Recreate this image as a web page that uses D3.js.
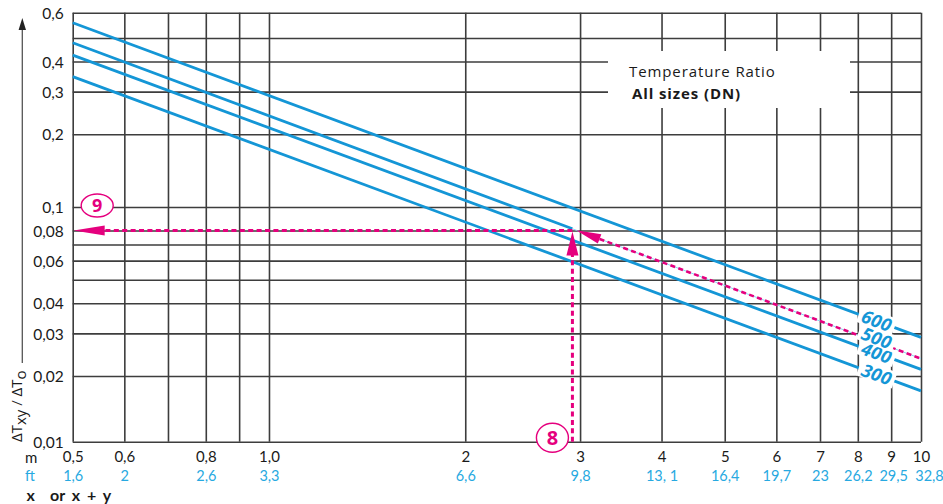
<!DOCTYPE html>
<html>
<head>
<meta charset="utf-8">
<script src="https://cdn.jsdelivr.net/npm/d3@7"></script>
<style>
  html, body { margin: 0; padding: 0; background: #fff; }
  svg { display: block; font-family: "Open Sans", "Noto Sans", sans-serif; }
</style>
</head>
<body>
<svg id="chart" width="943" height="504"></svg>
<script>
// Distance axis: metres, with the matching feet values underneath
const xTicks = [0.5, 0.6, 0.7, 0.8, 0.9, 1, 2, 3, 4, 5, 6, 7, 8, 9, 10];
const xTickLabels = ["0,5", "0,6", "", "0,8", "", "1,0", "2", "3", "4", "5", "6", "7", "8", "9", "10"];
const ftTickLabels = ["1,6", "2", "", "2,6", "", "3,3", "6,6", "9,8", "13, 1", "16,4", "19,7", "23", "26,2", "29,5", "32,8"];

// Temperature ratio axis
const yTicks = [0.01, 0.02, 0.03, 0.04, 0.05, 0.06, 0.07, 0.08, 0.1, 0.2, 0.3, 0.4, 0.5, 0.6];
const yTickLabels = ["0,01", "0,02", "0,03", "0,04", "", "0,06", "", "0,08", "0,1", "0,2", "0,3", "0,4", "", "0,6"];

// One straight line per size: ratio at x = 0.5 m and at x = 10 m
const lineX = [0.5, 10];
const sizeNames = ["300", "400", "500", "600"];
const ratio300 = [0.346, 0.0171];
const ratio400 = [0.425, 0.0213];
const ratio500 = [0.478, 0.0236];
const ratio600 = [0.558, 0.0289];

// Worked example: step 8 (distance) read across to step 9 (ratio) on the 500 line
const exampleX = 2.92;
const exampleY = 0.08;
const exampleSize = "500";

const BLUE = "#1496d6";
const LIGHTBLUE = "#27a9e1";
const MAGENTA = "#e5007e";
const GRID = "#3d3d3d";
const TICKFONT = "Lato, 'Open Sans', sans-serif";

const svg = d3.select("#chart");

// Log-log scales; the printed ratio grid is slightly stretched at both ends
const xScale = d3.scaleLog().domain([0.5, 10]).range([72.7, 921]);
const yScale = d3.scaleLog().domain([0.01, 0.02, 0.5, 0.6]).range([441.7, 376, 38, 12.7]);

const x0 = xScale(0.5), x1 = xScale(10);
const yTop = yScale(0.6), yBot = yScale(0.01);

// ---- grid + tick labels via axes ----
const yAxis = d3.axisLeft(yScale)
  .tickValues(yTicks)
  .tickSize(-(x1 - x0))
  .tickPadding(9)
  .tickFormat((d, i) => yTickLabels[i]);

const gy = svg.append("g").attr("transform", `translate(${x0},0)`).call(yAxis);
gy.select(".domain").remove();
gy.selectAll(".tick line").attr("stroke", GRID).attr("stroke-width", 1.6);
gy.selectAll(".tick text")
  .attr("fill", "#1a1a1a")
  .attr("font-family", TICKFONT)
  .attr("font-size", 15.5)
  .attr("dy", "0.36em");

const xAxis = d3.axisBottom(xScale)
  .tickValues(xTicks)
  .tickSize(-(yBot - yTop))
  .tickPadding(10)
  .tickFormat((d, i) => xTickLabels[i]);

const gx = svg.append("g").attr("transform", `translate(0,${yBot})`).call(xAxis);
gx.select(".domain").remove();
gx.selectAll(".tick line").attr("stroke", GRID).attr("stroke-width", 1.6);
gx.selectAll(".tick text")
  .attr("fill", "#1a1a1a")
  .attr("font-family", TICKFONT)
  .attr("font-size", 15)
  .attr("dy", "0.72em");

const ftAxis = d3.axisBottom(xScale)
  .tickValues(xTicks)
  .tickSize(0)
  .tickPadding(28.5)
  .tickFormat((d, i) => ftTickLabels[i]);

const gft = svg.append("g").attr("transform", `translate(0,${yBot})`).call(ftAxis);
gft.select(".domain").remove();
gft.selectAll(".tick line").remove();
gft.selectAll(".tick text")
  .attr("fill", LIGHTBLUE)
  .attr("font-family", TICKFONT)
  .attr("font-size", 14.5)
  .attr("dy", "0.72em")
  .attr("dx", d => (d === 10 ? 8 : d === 9 ? 2 : 0));

// ---- legend panel (white box interrupting the grid) ----
const legend = svg.append("g");
legend.append("rect")
  .attr("x", 608).attr("y", 51).attr("width", 242).attr("height", 57)
  .attr("fill", "#fff");
legend.append("text")
  .attr("x", 629).attr("y", 77)
  .attr("font-size", 15).attr("letter-spacing", 0.9).attr("fill", "#1a1a1a")
  .text("Temperature Ratio");
legend.append("text")
  .attr("x", 632).attr("y", 98.5)
  .attr("font-size", 15).attr("font-weight", 700).attr("letter-spacing", 0.9).attr("fill", "#1a1a1a")
  .text("All sizes (DN)");

// ---- size lines ----
const seriesValues = [ratio300, ratio400, ratio500, ratio600];
const series = sizeNames.map((name, i) => ({
  name,
  pts: lineX.map((xv, j) => [xScale(xv), yScale(seriesValues[i][j])])
}));

// point on a drawn line at a given distance
function along(s, xv) {
  const [p0, p1] = s.pts;
  const px = xScale(xv);
  const t = (px - p0[0]) / (p1[0] - p0[0]);
  return [px, p0[1] + t * (p1[1] - p0[1])];
}

const lineGen = d3.line();
const linesG = svg.append("g").attr("fill", "none").attr("stroke-linecap", "butt");

series.forEach(s => {
  if (s.name === exampleSize) {
    const hit = along(s, exampleX);
    linesG.append("path").attr("d", lineGen([s.pts[0], hit]))
      .attr("stroke", BLUE).attr("stroke-width", 2.8);
    linesG.append("path").attr("d", lineGen([hit, s.pts[1]]))
      .attr("stroke", "#8fd3f2").attr("stroke-width", 1);
  } else {
    linesG.append("path").attr("d", lineGen(s.pts))
      .attr("stroke", BLUE).attr("stroke-width", 2.8);
  }
});

// ---- worked example arrows ----
function arrowHead(g, tip, dir, len, wid) {
  const [dx, dy] = dir;
  const bx = tip[0] + dx * len, by = tip[1] + dy * len;
  const nx = -dy * wid / 2, ny = dx * wid / 2;
  g.append("path")
    .attr("d", `M${tip[0]},${tip[1]}L${bx + nx},${by + ny}L${bx - nx},${by - ny}Z`)
    .attr("fill", MAGENTA);
  return [bx, by];
}

const ex = svg.append("g");
const dash = "5,3.4";
const exPx = xScale(exampleX);
const exPy = yScale(exampleY);

// vertical: from the distance axis up to the line
const vArrowLen = 24;
ex.append("line")
  .attr("x1", exPx).attr("y1", yBot)
  .attr("x2", exPx).attr("y2", exPy + vArrowLen)
  .attr("stroke", MAGENTA).attr("stroke-width", 3).attr("stroke-dasharray", dash);
arrowHead(ex, [exPx, exPy + 1], [0, 1], vArrowLen, 12);

// horizontal: across to the ratio axis
const hArrowLen = 31;
ex.append("line")
  .attr("x1", exPx).attr("y1", exPy)
  .attr("x2", x0 + hArrowLen).attr("y2", exPy)
  .attr("stroke", MAGENTA).attr("stroke-width", 3).attr("stroke-dasharray", dash);
arrowHead(ex, [x0 + 1, exPy], [1, 0], hArrowLen, 10);

// along the 500 line, pointing back to the reading point
const s500 = series.find(s => s.name === exampleSize);
const hit = along(s500, exampleX);
const ddx = s500.pts[1][0] - s500.pts[0][0], ddy = s500.pts[1][1] - s500.pts[0][1];
const dl = Math.hypot(ddx, ddy);
const ud = [ddx / dl, ddy / dl];
const dTip = [hit[0] + ud[0] * 4, hit[1] + ud[1] * 4];
const dBase = arrowHead(ex, dTip, ud, 25, 10);
ex.append("line")
  .attr("x1", dBase[0]).attr("y1", dBase[1])
  .attr("x2", s500.pts[1][0]).attr("y2", s500.pts[1][1])
  .attr("stroke", MAGENTA).attr("stroke-width", 2.6).attr("stroke-dasharray", dash);

// step markers
function stepMarker(cx, cy, rx, ry, label, fs) {
  const g = svg.append("g");
  g.append("ellipse").attr("cx", cx).attr("cy", cy).attr("rx", rx).attr("ry", ry)
    .attr("fill", "#fff").attr("stroke", MAGENTA).attr("stroke-width", 1.4);
  g.append("text").attr("x", cx).attr("y", cy).attr("dy", "0.36em")
    .attr("text-anchor", "middle").attr("font-weight", 700).attr("font-size", fs)
    .attr("fill", MAGENTA).text(label);
}
stepMarker(exPx - 20, yBot - 4, 16, 14.5, "8", 20);
stepMarker(x0 + 24.5, yScale(0.1) - 1.5, 16, 11.5, "9", 18);

// ---- size labels, set on the lines ----
const labelX = 8.55;
const labelNudge = { "500": -4 };
const labelsG = svg.append("g");
const placed = series.map(s => {
  const p = along(s, labelX);
  const ang = Math.atan2(s.pts[1][1] - s.pts[0][1], s.pts[1][0] - s.pts[0][0]) * 180 / Math.PI;
  const g = labelsG.append("g")
    .attr("transform", `translate(${p[0]},${p[1] + (labelNudge[s.name] || 0)}) rotate(${ang})`);
  return { s, g };
});
placed.forEach(({ s, g }) => {
  g.append("rect").attr("class", "bg")
    .attr("x", -19).attr("y", -9).attr("width", 38).attr("height", 17)
    .attr("fill", "#fff");
});
placed.forEach(({ s, g }) => {
  g.append("text")
    .attr("text-anchor", "middle").attr("dy", "0.36em")
    .attr("font-size", 18).attr("font-weight", 700).attr("font-style", "italic")
    .attr("letter-spacing", 0.4)
    .attr("fill", BLUE).text(s.name);
});

// ---- axis titles ----
// vertical arrow beside the ratio axis
svg.append("line")
  .attr("x1", 22.3).attr("y1", 363).attr("x2", 22.3).attr("y2", 27)
  .attr("stroke", "#555").attr("stroke-width", 1.3);
svg.append("path")
  .attr("d", "M22.3,18L26,30L18.6,30Z").attr("fill", "#222");

const yTitle = svg.append("text")
  .attr("transform", "translate(21.5,442) rotate(-90)")
  .attr("font-size", 15).attr("fill", "#1a1a1a");
yTitle.append("tspan").text("ΔT");
yTitle.append("tspan").attr("dy", 4).text("xy");
yTitle.append("tspan").attr("dy", -4).text(" / ΔT");
yTitle.append("tspan").attr("dy", 4).text("o");

svg.append("text").attr("x", 25).attr("y", 463)
  .attr("font-family", TICKFONT)
  .attr("font-size", 15).attr("fill", "#1a1a1a").text("m");
svg.append("text").attr("x", 25).attr("y", 480.5)
  .attr("font-family", TICKFONT)
  .attr("font-size", 14.5).attr("fill", LIGHTBLUE).text("ft");

const xTitle = svg.append("text").attr("y", 500.5)
  .attr("font-family", TICKFONT)
  .attr("font-size", 16).attr("font-weight", 700).attr("fill", "#1a1a1a");
xTitle.append("tspan").attr("x", 26.5).text("x");
xTitle.append("tspan").attr("x", 50).attr("word-spacing", 3).text("or x + y");
</script>
</body>
</html>
